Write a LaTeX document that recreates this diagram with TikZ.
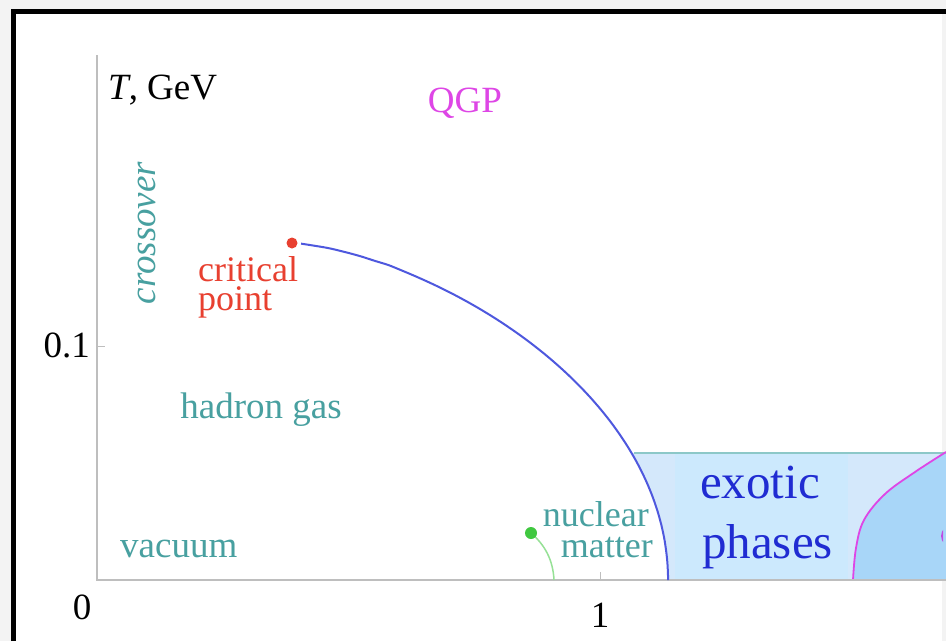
\documentclass[tikz,border=0pt]{standalone}
\usepackage{fontspec}
\setmainfont{Liberation Serif}
\definecolor{teal1}{RGB}{72,160,160}
\definecolor{qgpmag}{RGB}{222,70,230}
\definecolor{cpred}{RGB}{232,64,48}
\definecolor{curveblue}{RGB}{78,88,222}
\definecolor{exoblue}{RGB}{32,44,210}
\definecolor{nmgreen}{RGB}{64,200,64}
\definecolor{nmline}{RGB}{150,225,150}
\definecolor{regA}{RGB}{212,232,251}
\definecolor{regB}{RGB}{204,233,253}
\definecolor{regC}{RGB}{168,214,248}
\definecolor{topline}{RGB}{140,200,200}
\definecolor{axisgray}{RGB}{190,190,190}
\definecolor{outergray}{RGB}{243,243,243}
\tikzset{
  lbl/.style={inner sep=0pt, font=\fontsize{37}{30}\selectfont},
  pairtop/.style={inner sep=0pt, font=\fontsize{36}{30}\selectfont, text depth=0pt},
  pairbot/.style={inner sep=0pt, font=\fontsize{36}{30}\selectfont, text height=0.55em},
  biglbl/.style={inner sep=0pt, text=exoblue, font=\fontsize{49}{58}\selectfont},
  tick/.style={draw=axisgray, line width=1pt},
  axisline/.style={draw=axisgray, line width=2pt}
}
\begin{document}
\begin{tikzpicture}[x=1pt,y=-1pt]
\useasboundingbox (0,0) rectangle (946,641);
\fill[outergray] (0,0) rectangle (946,641);
\fill[white] (13,11) rectangle (942,641);
\draw[black, line width=5pt] (13.5,641) -- (13.5,11.5) -- (946,11.5);
% regions
\begin{scope}
  \clip (0,453) rectangle (946,580);
  \fill[regA] plot[smooth, domain=0:0.999, samples=80, variable=\s] ({292+376*pow(1-\s*\s,0.6667)},{580-337*\s}) -- (946,243) -- (946,580) -- cycle;
  \fill[regB] (675,453) rectangle (848,580);
  \fill[regC] plot[smooth, tension=0.6] coordinates {(853,580) (856,548) (864,520) (885,494) (915,472) (946,452)} -- (946,580) -- cycle;
\end{scope}
\draw[topline, line width=2pt] (634,453) -- (946,453);
\draw[qgpmag, line width=1.8pt] plot[smooth, tension=0.6] coordinates {(853,580) (856,548) (864,520) (885,494) (915,472) (946,452)};
\begin{scope}
  \clip (900,500) rectangle (943,570);
  \draw[qgpmag!80!curveblue, line width=1.8pt, fill=regC] (952,536) circle (10);
\end{scope}
% axes
\draw[axisline] (97,55) -- (97,580) -- (946,580);
\draw[tick] (97,346) -- (105,346);
\draw[tick] (600,580) -- (600,572);
% critical line
\coordinate (cp) at (292,243);
\draw[curveblue, line width=2pt] plot[smooth, domain=0:0.999, samples=80, variable=\s] ({292+376*pow(1-\s*\s,0.6667)},{580-337*\s});
\fill[cpred] (cp) circle (5.5);
% nuclear matter line
\coordinate (nm) at (531,533);
\coordinate (nmend) at (554,580);
\draw[nmline, line width=1.5pt] (nm) .. controls (545,545) and (553,560) .. (nmend);
\fill[nmgreen] (nm) circle (6);
% labels
\node[lbl, anchor=base west] (tlab) at (108,99) {\textit{T}, GeV};
\node[lbl, text=qgpmag, anchor=base] (qgp) at (465,112) {QGP};
\node[lbl, text=teal1, rotate=90, anchor=base] (cross) at (155,233) {\textit{crossover}};
\node[pairtop, text=cpred, anchor=base west] (crit1) at (198,281) {critical};
\node[pairbot, text=cpred, anchor=base west] (crit2) at (198,310) {point};
\node[lbl, text=teal1, anchor=base] (hg) at (261,418) {hadron gas};
\node[lbl, text=teal1, anchor=base west] (vac) at (120,557) {vacuum};
\node[pairtop, text=teal1, anchor=base east] (nuc1) at (649,526) {nuclear};
\node[pairbot, text=teal1, anchor=base east] (nuc2) at (653,557) {matter};
\node[biglbl, anchor=base west] (exo1) at (700,498) {exotic};
\node[biglbl, anchor=base west] (exo2) at (702,558) {phases};
\node[lbl, anchor=base east] (y01) at (90,357) {0.1};
\node[lbl, anchor=base] (x1) at (600,627) {1};
\node[lbl, anchor=base] (x0) at (82,619) {0};
\end{tikzpicture}
\end{document}
